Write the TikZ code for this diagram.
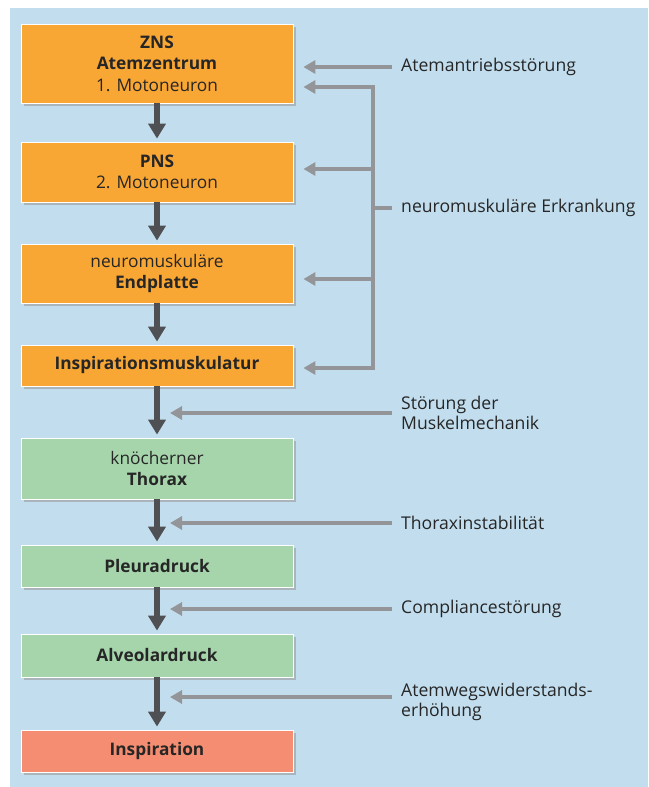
\documentclass[tikz,border=0pt]{standalone}
\usepackage{fontspec}
\setmainfont{Open Sans}
\usetikzlibrary{arrows.meta,shadows}
\definecolor{bgblue}{HTML}{C2DEEE}
\definecolor{boxorange}{HTML}{F8A634}
\definecolor{boxgreen}{HTML}{A6D5AB}
\definecolor{boxred}{HTML}{F58D72}
\definecolor{flowgray}{HTML}{4F5053}
\definecolor{causegray}{HTML}{939598}
\tikzstyle{box} = [draw=white, line width=0.8pt, minimum width=272pt, align=center, text=black!85, font={\fontsize{17.3}{21.5}\selectfont}, drop shadow={shadow xshift=3pt, shadow yshift=-3pt, fill=black!40, opacity=.6}]
\tikzstyle{cns} = [box, fill=boxorange]
\tikzstyle{mech} = [box, fill=boxgreen]
\tikzstyle{goal} = [box, fill=boxred]
\tikzstyle{flow} = [draw=flowgray, line width=6pt, -{Triangle[width=17pt,length=15pt]}, shorten >=3pt]
\tikzstyle{cause} = [draw=causegray, line width=4.5pt, -{Triangle[width=13pt,length=12pt]}]
\tikzstyle{causeline} = [draw=causegray, line width=4.5pt]
\tikzstyle{note} = [anchor=west, inner sep=0pt, align=left, text=black!85, font={\fontsize{17.6}{20.5}\selectfont}]

\begin{document}
\begin{tikzpicture}[x=1pt,y=-1pt]
        \useasboundingbox (0,0) rectangle (648,787);
        \fill[bgblue] (10,8) rectangle (648,787);
        % chain of boxes
        \node[cns,minimum height=79pt](zns) at (157,63.5){\textbf{ZNS}\\\textbf{Atemzentrum}\\1. Motoneuron};
        \node[cns,minimum height=60pt](pns) at (157,172){\textbf{PNS}\\2. Motoneuron};
        \node[cns,minimum height=59pt](endpl) at (157,273.5){neuromuskuläre\\\textbf{Endplatte}};
        \node[cns,minimum height=41pt](muskel) at (157,365.5){\textbf{Inspirationsmuskulatur}};
        \node[mech,minimum height=61pt](thorax) at (157,468.5){knöcherner\\\textbf{Thorax}};
        \node[mech,minimum height=42pt](pleura) at (157,566){\textbf{Pleuradruck}};
        \node[mech,minimum height=43pt](alveol) at (157,655.5){\textbf{Alveolardruck}};
        \node[goal,minimum height=42pt](insp) at (157,751){\textbf{Inspiration}};
        \draw[flow](zns)--(pns);
        \draw[flow](pns)--(endpl);
        \draw[flow](endpl)--(muskel);
        \draw[flow](muskel)--(thorax);
        \draw[flow](thorax)--(pleura);
        \draw[flow](pleura)--(alveol);
        \draw[flow](alveol)--(insp);
        % disturbances
        \node[note](antrieb) at (401,67){Atemantriebsstörung};
        \node[note](nmerkr) at (401,208){neuromuskuläre Erkrankung};
        \node[note](mechan) at (401,413){Störung der\\Muskelmechanik};
        \node[note](instab) at (401,523){Thoraxinstabilität};
        \node[note](compl) at (401,609){Compliancestörung};
        \node[note](widerst) at (401,702){Atemwegswiderstands-\\erhöhung};
        \draw[cause,shorten <=9pt,shorten >=10pt](antrieb.west)--(zns.east |- antrieb.west);
        \coordinate(nmj) at (373,208);
        \coordinate(b1) at (373,87);
        \coordinate(b2) at (373,169);
        \coordinate(b3) at (373,279);
        \coordinate(b4) at (373,368);
        \draw[causeline,shorten <=9pt](nmerkr.west)--(nmj);
        \draw[cause,shorten >=10pt](b4)--(b1)--(zns.east |- b1);
        \draw[cause,shorten >=10pt](b1)--(b4)--(muskel.east |- b4);
        \draw[cause,shorten >=10pt](b2)--(pns.east |- b2);
        \draw[cause,shorten >=10pt](b3)--(endpl.east |- b3);
        \draw[cause,shorten <=9pt,shorten >=13pt](mechan.west)--(zns.center |- mechan.west);
        \draw[cause,shorten <=9pt,shorten >=13pt](instab.west)--(zns.center |- instab.west);
        \draw[cause,shorten <=9pt,shorten >=13pt](compl.west)--(zns.center |- compl.west);
        \coordinate(wl) at ([yshift=5pt]widerst.west);
        \draw[cause,shorten <=9pt,shorten >=13pt](wl)--(zns.center |- wl);
      \end{tikzpicture}
\end{document}
